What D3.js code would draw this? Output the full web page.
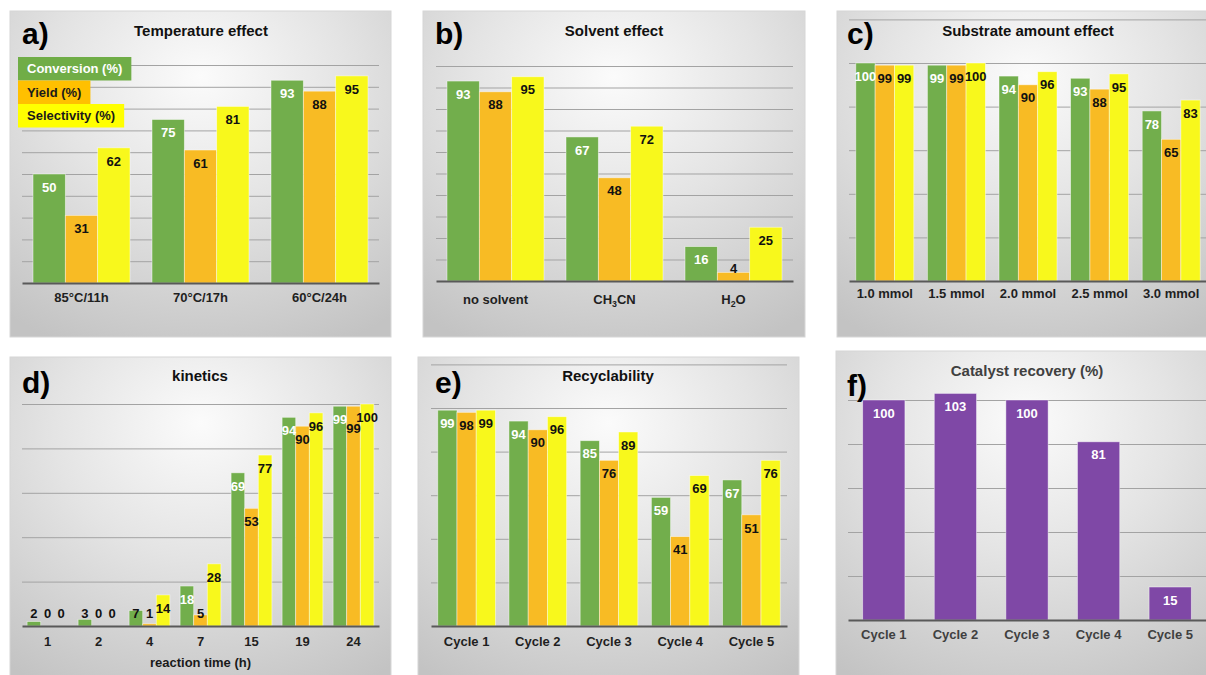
<!DOCTYPE html>
<html>
<head>
<meta charset="utf-8">
<script src="https://cdn.jsdelivr.net/npm/d3@7/dist/d3.min.js"></script>
<style>
  html, body { margin: 0; padding: 0; background: #ffffff; }
  svg { display: block; }
  text { font-family: "Liberation Sans", Arial, sans-serif; font-weight: bold; }
</style>
</head>
<body>
<svg id="fig" width="1206" height="675"></svg>
<script>
// ---- data ----
const seriesNames = ["Conversion (%)", "Yield (%)", "Selectivity (%)"];

const tempCategories = ["85°C/11h", "70°C/17h", "60°C/24h"];
const tempConversion = [50, 75, 93];
const tempYield = [31, 61, 88];
const tempSelectivity = [62, 81, 95];

const solventCategories = ["no solvent", "CH₃CN", "H₂O"];
const solventConversion = [93, 67, 16];
const solventYield = [88, 48, 4];
const solventSelectivity = [95, 72, 25];

const substrateCategories = ["1.0 mmol", "1.5 mmol", "2.0 mmol", "2.5 mmol", "3.0 mmol"];
const substrateConversion = [100, 99, 94, 93, 78];
const substrateYield = [99, 99, 90, 88, 65];
const substrateSelectivity = [99, 100, 96, 95, 83];

const kineticsTimes = ["1", "2", "4", "7", "15", "19", "24"];
const kineticsConversion = [2, 3, 7, 18, 69, 94, 99];
const kineticsYield = [0, 0, 1, 5, 53, 90, 99];
const kineticsSelectivity = [0, 0, 14, 28, 77, 96, 100];

const cycleCategories = ["Cycle 1", "Cycle 2", "Cycle 3", "Cycle 4", "Cycle 5"];
const cycleConversion = [99, 94, 85, 59, 67];
const cycleYield = [98, 90, 76, 41, 51];
const cycleSelectivity = [99, 96, 89, 69, 76];

const recoveryCategories = ["Cycle 1", "Cycle 2", "Cycle 3", "Cycle 4", "Cycle 5"];
const recoveryValues = [100, 103, 100, 81, 15];

// ---- styling ----
const seriesColors = ["#72ae4c", "#f8bb24", "#f8f81c"];
const legendColors = ["#70ad47", "#ffc000", "#ffff00"];
const labelColors = ["#ffffff", "#111111", "#111111"];
const purple = "#7f48a6";

const svg = d3.select("#fig");
const defs = svg.append("defs");
const grad = defs.append("radialGradient")
  .attr("id", "panelBg")
  .attr("cx", "50%").attr("cy", "25%").attr("r", "85%")
  .attr("fx", "50%").attr("fy", "20%");
grad.append("stop").attr("offset", "0%").attr("stop-color", "#fbfbfb");
grad.append("stop").attr("offset", "45%").attr("stop-color", "#e4e4e4");
grad.append("stop").attr("offset", "100%").attr("stop-color", "#c3c3c3");

// Render subscript characters (₀-₉) as lowered small digits.
function writeLabel(textSel, str, size) {
  textSel.text(null);
  const subs = "₀₁₂₃₄₅₆₇₈₉";
  let buf = "", shifted = false;
  const flush = () => {
    if (buf) { textSel.append("tspan").text(buf); buf = ""; }
  };
  for (const ch of str) {
    const k = subs.indexOf(ch);
    if (k >= 0) {
      flush();
      textSel.append("tspan").attr("dy", 3).attr("font-size", size * 0.68).text(String(k));
      shifted = true;
    } else {
      if (shifted) {
        textSel.append("tspan").attr("dy", -3).text(ch);
        shifted = false;
      } else buf += ch;
    }
  }
  flush();
}

function drawPanel(cfg) {
  const g = svg.append("g");

  // panel background
  g.append("rect")
    .attr("x", cfg.frame[0]).attr("y", cfg.frame[1])
    .attr("width", cfg.frame[2]).attr("height", cfg.frame[3])
    .attr("fill", "url(#panelBg)")
    .attr("stroke", "#d6d6d6").attr("stroke-width", 1);

  const x0 = d3.scaleBand()
    .domain(cfg.categories)
    .range([cfg.plotX[0], cfg.plotX[1]])
    .paddingInner(cfg.gap).paddingOuter(cfg.gap / 2);

  const y = d3.scaleLinear()
    .domain([0, cfg.yMax])
    .range([cfg.base, cfg.yTop]);

  // gridlines
  const gridTicks = d3.range(cfg.gridStep, cfg.gridMax + 0.1, cfg.gridStep);
  const grid = g.append("g")
    .attr("transform", `translate(${cfg.plotX[0]},0)`)
    .call(d3.axisLeft(y).tickValues(gridTicks)
      .tickSize(-(cfg.plotX[1] - cfg.plotX[0])).tickFormat(""));
  grid.select(".domain").remove();
  grid.selectAll("line").attr("stroke", "#a3a3a3").attr("stroke-width", 1);

  // bars
  const nS = cfg.series.length;
  const x1 = d3.scaleBand().domain(d3.range(nS)).range([0, x0.bandwidth()]);
  const rows = [];
  cfg.categories.forEach((c, i) => {
    cfg.series.forEach((s, j) => rows.push({ c, i, j, v: s[i] }));
  });

  const barG = g.append("g");
  barG.selectAll("rect").data(rows).join("rect")
    .attr("x", d => x0(d.c) + x1(d.j))
    .attr("width", x1.bandwidth())
    .attr("y", d => y(d.v))
    .attr("height", d => cfg.base - y(d.v))
    .attr("fill", d => cfg.colors[d.j])
    .attr("stroke", "rgba(255,255,255,0.55)")
    .attr("stroke-width", 0.8);

  // value labels: inside the top of the bar, kept above the axis for short bars
  const lblG = g.append("g");
  const labels = lblG.selectAll("text").data(rows).join("text")
    .attr("x", d => x0(d.c) + x1(d.j) + x1.bandwidth() / 2)
    .attr("y", d => {
      d.clamped = y(d.v) + 13 > cfg.base - 13;
      d.ly = Math.min(y(d.v) + 13, cfg.base - 13);
      return d.ly;
    })
    .attr("dy", "0.36em")
    .attr("text-anchor", "middle")
    .attr("font-size", 13)
    .attr("fill", d => (d.clamped ? "#111111" : cfg.labelColors[d.j]))
    .text(d => d.v);

  if (cfg.separateLabels) {
    // push a label down when it collides with its left neighbour
    const nodes = labels.nodes();
    cfg.categories.forEach((c, i) => {
      for (let j = 1; j < nS; j++) {
        const a = nodes[i * nS + j - 1], b = nodes[i * nS + j];
        const da = d3.select(a).datum(), db = d3.select(b).datum();
        const ax = +a.getAttribute("x"), bx = +b.getAttribute("x");
        const aw = a.getComputedTextLength(), bw = b.getComputedTextLength();
        const overlapX = (ax + aw / 2) - (bx - bw / 2) > -1;
        if (overlapX && Math.abs(db.ly - da.ly) < 8) {
          db.ly = da.ly + 9;
          d3.select(b).attr("y", db.ly);
        }
      }
    });
  }

  // category axis
  const axis = g.append("g")
    .attr("transform", `translate(0,${cfg.base})`)
    .call(d3.axisBottom(x0).tickSize(0).tickSizeOuter(0).tickPadding(cfg.tickPad));
  axis.select(".domain").attr("stroke", "#595959").attr("stroke-width", 2.2);
  axis.selectAll(".tick text")
    .attr("font-size", 13)
    .attr("font-family", "'Liberation Sans', Arial, sans-serif")
    .attr("font-weight", "bold")
    .attr("fill", cfg.axisColor)
    .each(function (d) { writeLabel(d3.select(this), d, 13); });

  if (cfg.axisTitle) {
    g.append("text")
      .attr("x", (cfg.plotX[0] + cfg.plotX[1]) / 2)
      .attr("y", cfg.axisTitleY)
      .attr("text-anchor", "middle")
      .attr("font-size", 13)
      .attr("fill", "#1a1a1a")
      .text(cfg.axisTitle);
  }

  // title and panel letter
  g.append("text")
    .attr("x", cfg.titlePos[0]).attr("y", cfg.titlePos[1])
    .attr("text-anchor", "middle")
    .attr("font-size", 15)
    .attr("fill", cfg.titleColor)
    .text(cfg.title);

  g.append("text")
    .attr("x", cfg.letterPos[0]).attr("y", cfg.letterPos[1])
    .attr("font-size", 30)
    .attr("fill", "#000000")
    .text(cfg.letter);

  if (cfg.legend) {
    const lg = g.append("g");
    let ly = cfg.legend.y;
    seriesNames.forEach((name, k) => {
      const t = lg.append("text")
        .attr("x", cfg.legend.x + 9)
        .attr("y", ly + cfg.legend.h / 2)
        .attr("dy", "0.36em")
        .attr("font-size", 13)
        .attr("fill", k === 0 ? "#ffffff" : "#1a1a1a")
        .text(name);
      const w = t.node().getComputedTextLength() + 18;
      lg.insert("rect", "text")
        .attr("x", cfg.legend.x).attr("y", ly)
        .attr("width", w).attr("height", cfg.legend.h)
        .attr("fill", legendColors[k]);
      ly += cfg.legend.h;
    });
  }
}

drawPanel({
  letter: "a)", title: "Temperature effect", titleColor: "#111111",
  frame: [10, 11, 381, 326], plotX: [22, 379], base: 283, yMax: 100, yTop: 65,
  gridStep: 10, gridMax: 100, gap: 0.185, tickPad: 10, axisColor: "#1f1f1f",
  titlePos: [201, 36], letterPos: [22, 44],
  categories: tempCategories,
  series: [tempConversion, tempYield, tempSelectivity],
  colors: seriesColors, labelColors: labelColors,
  legend: { x: 18, y: 57, h: 23.5 }
});

drawPanel({
  letter: "b)", title: "Solvent effect", titleColor: "#111111",
  frame: [423, 11, 382, 326], plotX: [436, 793], base: 281, yMax: 100, yTop: 66,
  gridStep: 10, gridMax: 100, gap: 0.185, tickPad: 14, axisColor: "#1f1f1f",
  titlePos: [614, 36], letterPos: [435, 44],
  categories: solventCategories,
  series: [solventConversion, solventYield, solventSelectivity],
  colors: seriesColors, labelColors: labelColors
});

drawPanel({
  letter: "c)", title: "Substrate amount effect", titleColor: "#111111",
  frame: [837, 11, 380, 326], plotX: [849, 1207], base: 281, yMax: 120, yTop: 19.4,
  gridStep: 20, gridMax: 120, gap: 0.19, tickPad: 8, axisColor: "#1f1f1f",
  titlePos: [1028, 36], letterPos: [847, 44],
  categories: substrateCategories,
  series: [substrateConversion, substrateYield, substrateSelectivity],
  colors: seriesColors, labelColors: labelColors
});

drawPanel({
  letter: "d)", title: "kinetics", titleColor: "#111111",
  frame: [10, 357, 381, 330], plotX: [22, 379], base: 626, yMax: 100, yTop: 404,
  gridStep: 20, gridMax: 100, gap: 0.2, tickPad: 11, axisColor: "#1f1f1f",
  titlePos: [200, 381], letterPos: [22, 393],
  axisTitle: "reaction time (h)", axisTitleY: 667,
  categories: kineticsTimes,
  series: [kineticsConversion, kineticsYield, kineticsSelectivity],
  colors: seriesColors, labelColors: labelColors, separateLabels: true
});

drawPanel({
  letter: "e)", title: "Recyclability", titleColor: "#111111",
  frame: [418, 357, 381, 330], plotX: [431, 787], base: 626, yMax: 120, yTop: 364.4,
  gridStep: 20, gridMax: 120, gap: 0.19, tickPad: 11, axisColor: "#1f1f1f",
  titlePos: [608, 381], letterPos: [435, 393],
  categories: cycleCategories,
  series: [cycleConversion, cycleYield, cycleSelectivity],
  colors: seriesColors, labelColors: labelColors
});

drawPanel({
  letter: "f)", title: "Catalyst recovery (%)", titleColor: "#404040",
  frame: [836, 351, 380, 336], plotX: [848, 1206], base: 620, yMax: 120, yTop: 356,
  gridStep: 20, gridMax: 100, gap: 0.41, tickPad: 10, axisColor: "#404040",
  titlePos: [1027, 376], letterPos: [847, 396],
  categories: recoveryCategories,
  series: [recoveryValues],
  colors: [purple], labelColors: ["#ffffff"]
});
</script>
</body>
</html>
